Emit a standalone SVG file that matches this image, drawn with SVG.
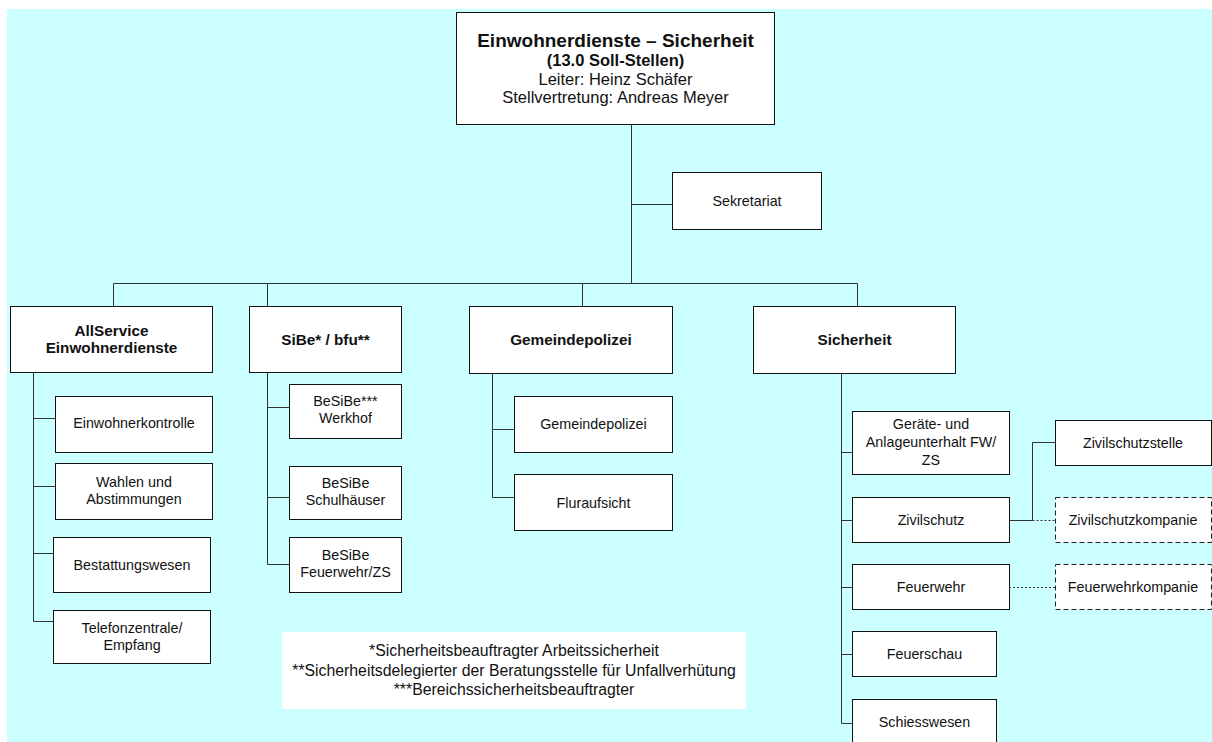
<svg xmlns="http://www.w3.org/2000/svg" width="1212" height="742" viewBox="0 0 1212 742">
  <style>
    text { font-family: "Liberation Sans", Arial, sans-serif; font-size: 14.3px; fill: #111; text-anchor: middle; }
    .b { font-weight: bold; font-size: 15.3px; }
    .t1 { font-weight: bold; font-size: 19px; }
    .t2 { font-size: 16.5px; }
    .fn { font-size: 15.8px; }
    .box { fill: #fff; stroke: #111; stroke-width: 1; }
    .dash { fill: #fff; stroke: #222; stroke-width: 1; stroke-dasharray: 5 3; }
    .ln { fill: none; stroke: #333; stroke-width: 1; }
    .dl { fill: none; stroke: #333; stroke-width: 1; stroke-dasharray: 2 2; }
  </style>

  <!-- page background -->
  <rect x="7" y="9" width="1205" height="733" fill="#CCFFFF"/>

  <!-- connectors -->
  <g id="connectors">
    <path class="ln" d="M631.5 125 V283.5"/>
    <path class="ln" d="M631.5 204.5 H672"/>
    <path class="ln" d="M113.5 306 V283.5 H857.5 V306"/>
    <path class="ln" d="M267.5 283.5 V306"/>
    <path class="ln" d="M582.5 283.5 V306"/>

    <!-- AllService children -->
    <path class="ln" d="M33.5 372 V621.5 H53"/>
    <path class="ln" d="M33.5 418.5 H55"/>
    <path class="ln" d="M33.5 486.5 H55"/>
    <path class="ln" d="M33.5 553.5 H53"/>

    <!-- SiBe children -->
    <path class="ln" d="M267.5 372 V564.5 H289"/>
    <path class="ln" d="M267.5 407.5 H289"/>
    <path class="ln" d="M267.5 497.5 H289"/>

    <!-- Gemeindepolizei children -->
    <path class="ln" d="M492.5 373 V497.5 H514"/>
    <path class="ln" d="M492.5 429.5 H514"/>

    <!-- Sicherheit children -->
    <path class="ln" d="M841.5 373 V723.5 H852"/>
    <path class="ln" d="M841.5 452.5 H852"/>
    <path class="ln" d="M841.5 520.5 H852"/>
    <path class="ln" d="M841.5 587.5 H852"/>
    <path class="ln" d="M841.5 654.5 H852"/>

    <!-- Zivilschutz / Feuerwehr side branches -->
    <path class="ln" d="M1009 520.5 H1032.5 V442.5 H1055"/>
    <path class="dl" d="M1032.5 520.5 H1055"/>
    <path class="dl" d="M1009 587.5 H1055"/>
  </g>

  <!-- top unit -->
  <g id="n-top">
    <rect class="box" x="456.5" y="12.5" width="318" height="112"/>
    <text class="t1" x="615.5" y="47">Einwohnerdienste – Sicherheit</text>
    <text class="t2" x="615.5" y="66" font-weight="bold">(13.0 Soll-Stellen)</text>
    <text class="t2" x="615.5" y="85">Leiter: Heinz Schäfer</text>
    <text class="t2" x="615.5" y="103">Stellvertretung: Andreas Meyer</text>
  </g>

  <g id="n-sekretariat">
    <rect class="box" x="672.5" y="172.5" width="149" height="57"/>
    <text x="747" y="206">Sekretariat</text>
  </g>

  <!-- second level -->
  <g id="n-allservice">
    <rect class="box" x="10.5" y="306.5" width="202" height="66"/>
    <text class="b" x="111.5" y="336">AllService</text>
    <text class="b" x="111.5" y="353">Einwohnerdienste</text>
  </g>
  <g id="n-sibe">
    <rect class="box" x="249.5" y="306.5" width="152" height="66"/>
    <text class="b" x="325.5" y="345">SiBe* / bfu**</text>
  </g>
  <g id="n-gemeindepolizei">
    <rect class="box" x="469.5" y="306.5" width="203" height="67"/>
    <text class="b" x="571" y="345">Gemeindepolizei</text>
  </g>
  <g id="n-sicherheit">
    <rect class="box" x="753.5" y="306.5" width="202" height="67"/>
    <text class="b" x="854.5" y="345">Sicherheit</text>
  </g>

  <!-- AllService column -->
  <g id="n-einwohnerkontrolle">
    <rect class="box" x="55.5" y="396.5" width="157" height="56"/>
    <text x="134" y="428">Einwohnerkontrolle</text>
  </g>
  <g id="n-wahlen">
    <rect class="box" x="55.5" y="463.5" width="157" height="56"/>
    <text x="134" y="487">Wahlen und</text>
    <text x="134" y="504">Abstimmungen</text>
  </g>
  <g id="n-bestattung">
    <rect class="box" x="53.5" y="537.5" width="157" height="55"/>
    <text x="132" y="570">Bestattungswesen</text>
  </g>
  <g id="n-telefon">
    <rect class="box" x="53.5" y="610.5" width="157" height="53"/>
    <text x="132" y="633">Telefonzentrale/</text>
    <text x="132" y="650">Empfang</text>
  </g>

  <!-- SiBe column -->
  <g id="n-besibe-werkhof">
    <rect class="box" x="289.5" y="384.5" width="112" height="54"/>
    <text x="345.5" y="406">BeSiBe***</text>
    <text x="345.5" y="423">Werkhof</text>
  </g>
  <g id="n-besibe-schul">
    <rect class="box" x="289.5" y="466.5" width="112" height="53"/>
    <text x="345.5" y="488">BeSiBe</text>
    <text x="345.5" y="505">Schulhäuser</text>
  </g>
  <g id="n-besibe-fw">
    <rect class="box" x="289.5" y="537.5" width="112" height="55"/>
    <text x="345.5" y="560">BeSiBe</text>
    <text x="345.5" y="577">Feuerwehr/ZS</text>
  </g>

  <!-- Gemeindepolizei column -->
  <g id="n-gp">
    <rect class="box" x="514.5" y="396.5" width="158" height="56"/>
    <text x="593.5" y="429">Gemeindepolizei</text>
  </g>
  <g id="n-fluraufsicht">
    <rect class="box" x="514.5" y="474.5" width="158" height="56"/>
    <text x="593.5" y="508">Fluraufsicht</text>
  </g>

  <!-- Sicherheit column -->
  <g id="n-geraete">
    <rect class="box" x="852.5" y="411.5" width="157" height="63"/>
    <text x="931" y="429">Geräte- und</text>
    <text x="931" y="447">Anlageunterhalt FW/</text>
    <text x="931" y="465">ZS</text>
  </g>
  <g id="n-zivilschutz">
    <rect class="box" x="852.5" y="497.5" width="157" height="45"/>
    <text x="931" y="525">Zivilschutz</text>
  </g>
  <g id="n-feuerwehr">
    <rect class="box" x="852.5" y="564.5" width="157" height="45"/>
    <text x="931" y="592">Feuerwehr</text>
  </g>
  <g id="n-feuerschau">
    <rect class="box" x="852.5" y="631.5" width="144" height="45"/>
    <text x="924.5" y="659">Feuerschau</text>
  </g>
  <g id="n-schiesswesen">
    <rect class="box" x="852.5" y="699.5" width="144" height="45"/>
    <text x="924.5" y="727">Schiesswesen</text>
  </g>

  <!-- side units -->
  <g id="n-zs-stelle">
    <rect class="box" x="1055.5" y="420.5" width="156" height="45"/>
    <text x="1133" y="448">Zivilschutzstelle</text>
  </g>
  <g id="n-zs-kompanie">
    <rect class="dash" x="1055.5" y="497.5" width="156" height="45"/>
    <text x="1133" y="525">Zivilschutzkompanie</text>
  </g>
  <g id="n-fw-kompanie">
    <rect class="dash" x="1055.5" y="564.5" width="156" height="45"/>
    <text x="1133" y="592">Feuerwehrkompanie</text>
  </g>

  <!-- footnotes -->
  <g id="legend">
    <rect x="282" y="632" width="464" height="77" fill="#fff"/>
    <text class="fn" x="514" y="656">*Sicherheitsbeauftragter Arbeitssicherheit</text>
    <text class="fn" x="514" y="676">**Sicherheitsdelegierter der Beratungsstelle für Unfallverhütung</text>
    <text class="fn" x="514" y="695">***Bereichssicherheitsbeauftragter</text>
  </g>
</svg>
